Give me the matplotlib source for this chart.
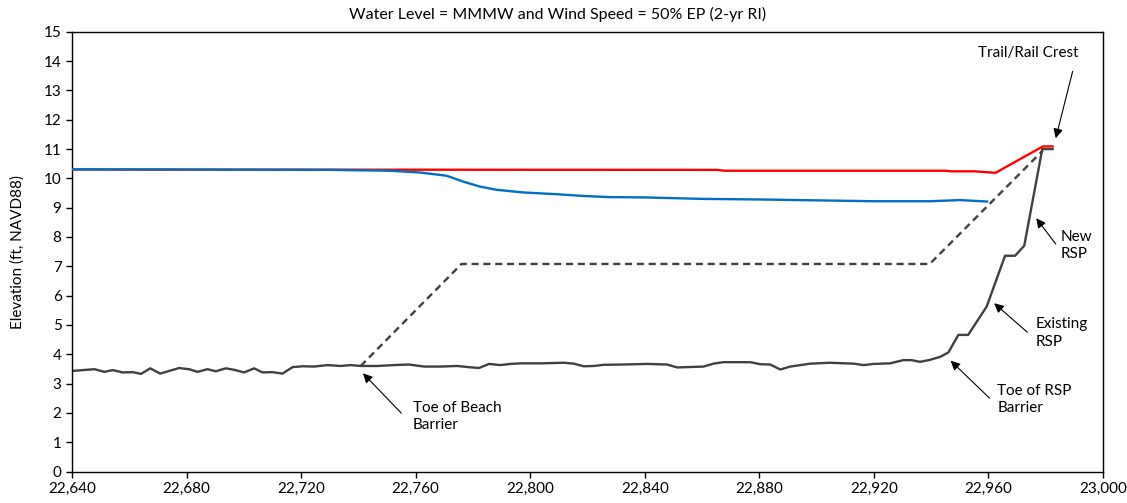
import matplotlib
matplotlib.use('Agg')
import matplotlib.pyplot as plt
from matplotlib.ticker import FuncFormatter, MultipleLocator

plt.rcParams['font.family'] = ['Lato', 'DejaVu Sans']

# existing ground profile (station, elevation)
ground_sta = [22640, 22647.8, 22651.3, 22654.2, 22657.7, 22661.2, 22664.1, 22667.3,
              22670.8, 22673.9, 22677.4, 22680.9, 22683.8, 22687.3, 22690.2, 22693.7,
              22696.6, 22700.1, 22703.6, 22706.5, 22710, 22713.5, 22717, 22720.5,
              22724.5, 22729.2, 22733.8, 22737.3, 22740.8, 22746.6, 22752.4, 22757.6,
              22762.9, 22768.7, 22774.5, 22778.6, 22782.1, 22785.6, 22789.6, 22793.1,
              22796.6, 22803.6, 22811.7, 22815.2, 22818.7, 22822.2, 22825.7, 22832.7,
              22840.8, 22847.8, 22851.3, 22860.5, 22864, 22867.5, 22876.8, 22880.3,
              22883.8, 22887.3, 22890.8, 22894.3, 22897.8, 22904.7, 22912.9, 22916.4,
              22919.9, 22925.7, 22930.3, 22933.2, 22936.1, 22939.6, 22943.1, 22946,
              22949.5, 22952.9, 22959.4, 22965.8, 22969.3, 22972.5, 22978.8, 22982.4]
ground_elev = [3.43, 3.49, 3.40, 3.46, 3.38, 3.39, 3.33, 3.52,
               3.34, 3.43, 3.53, 3.49, 3.40, 3.49, 3.42, 3.52,
               3.47, 3.38, 3.52, 3.38, 3.39, 3.34, 3.56, 3.59,
               3.58, 3.63, 3.60, 3.63, 3.60, 3.60, 3.63, 3.65,
               3.58, 3.58, 3.60, 3.56, 3.53, 3.67, 3.63, 3.67,
               3.69, 3.69, 3.71, 3.68, 3.59, 3.60, 3.64, 3.65,
               3.67, 3.65, 3.55, 3.58, 3.68, 3.73, 3.73, 3.66,
               3.65, 3.48, 3.58, 3.63, 3.68, 3.71, 3.68, 3.63,
               3.67, 3.69, 3.80, 3.80, 3.74, 3.81, 3.91, 4.06,
               4.66, 4.66, 5.63, 7.36, 7.36, 7.70, 11.0, 11.0]

# proposed barrier (dashed)
barrier_sta = [22740.8, 22776, 22939.5, 22979]
barrier_elev = [3.60, 7.08, 7.08, 10.95]

# runup / water level lines
red_sta = [22640, 22865, 22868, 22945, 22947, 22955, 22962.5, 22979, 22982.4]
red_elev = [10.30, 10.29, 10.26, 10.26, 10.24, 10.24, 10.19, 11.09, 11.09]

blue_sta = [22640, 22730, 22751, 22761.5, 22770.8, 22776.6, 22782.4, 22788.2, 22797.5,
            22809.2, 22818.5, 22827.8, 22840, 22860, 22880, 22900, 22920, 22940,
            22950, 22959.5]
blue_elev = [10.31, 10.29, 10.26, 10.20, 10.09, 9.89, 9.72, 9.61, 9.52,
             9.46, 9.40, 9.36, 9.35, 9.30, 9.28, 9.25, 9.22, 9.22,
             9.26, 9.21]

fig = plt.figure(figsize=(11.27, 5.03), dpi=100)
ax = fig.add_axes([0.0639, 0.0626, 0.9148, 0.8742])

ax.plot(red_sta, red_elev, color='#FF0000', lw=1.7, zorder=3)
ax.plot(blue_sta, blue_elev, color='#0070C0', lw=1.7, zorder=4)
ax.plot(barrier_sta, barrier_elev, color='#404040', lw=1.7, ls=(0, (3, 2)), zorder=2)
ax.plot(ground_sta, ground_elev, color='#404040', lw=1.7, zorder=2)

ax.set_xlim(22640, 23000)
ax.set_ylim(0, 15)
ax.xaxis.set_major_locator(MultipleLocator(40))
ax.yaxis.set_major_locator(MultipleLocator(1))
ax.xaxis.set_major_formatter(FuncFormatter(lambda v, p: f"{int(v):,}"))
ax.tick_params(direction='out', length=4, width=1, labelsize=11, colors='black')
for s in ax.spines.values():
    s.set_linewidth(1)
    s.set_color('black')

ax.set_ylabel("Elevation (ft, NAVD88)", fontsize=11, labelpad=14)
fig.text(0.495, 0.972, "Water Level = MMMW and Wind Speed = 50% EP (2-yr RI)",
         fontsize=11.5, ha='center', va='center')

arrow = dict(arrowstyle='-|>', color='black', lw=0.8, mutation_scale=14,
             shrinkA=0, shrinkB=0)
txt = dict(fontsize=11, linespacing=1.3, va='center')

ax.annotate("", xy=(22983.5, 11.37), xytext=(22989.4, 13.65), arrowprops=arrow)
ax.text(22973.8, 14.27, "Trail/Rail Crest", ha='center', **txt)

ax.annotate("", xy=(22976.7, 8.64), xytext=(22983.5, 7.76), arrowprops=arrow)
ax.text(22985.2, 7.71, "New\nRSP", ha='left', **txt)

ax.annotate("", xy=(22962.0, 5.74), xytext=(22973.6, 4.75), arrowprops=arrow)
ax.text(22976.5, 4.73, "Existing\nRSP", ha='left', **txt)

ax.annotate("", xy=(22946.8, 3.78), xytext=(22960.4, 2.50), arrowprops=arrow)
ax.text(22963.1, 2.46, "Toe of RSP\nBarrier", ha='left', **txt)

ax.annotate("", xy=(22741.6, 3.35), xytext=(22755.0, 1.99), arrowprops=arrow)
ax.text(22759.0, 1.87, "Toe of Beach\nBarrier", ha='left', **txt)

fig.savefig("out.png", dpi=100)
